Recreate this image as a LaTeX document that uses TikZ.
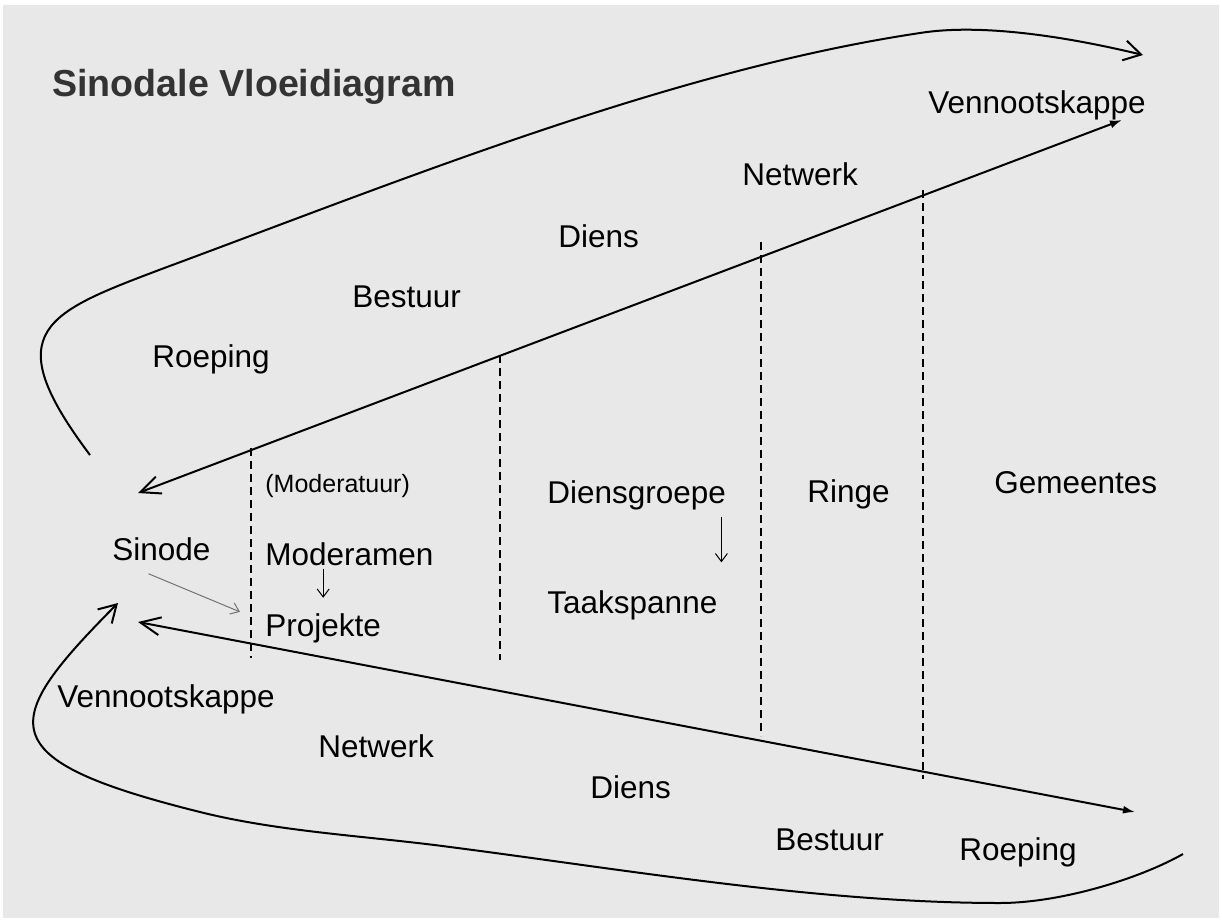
\documentclass[tikz,border=0pt]{standalone}
\usepackage{fontspec}
\setmainfont{Liberation Sans}
\usetikzlibrary{arrows.meta}
\tikzset{
  txt/.style={anchor=base west,inner sep=0pt,font=\fontsize{15.75}{19}\selectfont},
  flow/.style={line width=1pt},
  sep/.style={line width=0.9pt,dash pattern=on 4pt off 2.5pt},
  thinarrow/.style={line width=0.5pt,-{Straight Barb[length=4pt,width=6pt]}},
  bigbarb/.tip={Straight Barb[length=10pt,width=9pt]},
  curvebarb/.tip={Straight Barb[length=8.5pt,width=10pt]},
  smallhead/.tip={Latex[length=6pt,width=4pt]},
}

\begin{document}
\begin{tikzpicture}[x=0.5pt,y=-0.5pt]
\useasboundingbox (0,0) rectangle (1222,922);
\fill[black!9] (3,5) rectangle (1219,918);

\node[txt,font=\bfseries\fontsize{18.8}{22}\selectfont,text=black!80] (title) at (52,96) {Sinodale Vloeidiagram};

% top half
\node[txt] (venntop) at (928,113) {Vennootskappe};
\node[txt] (netwtop) at (742,185) {Netwerk};
\node[txt] (dienstop) at (558,247) {Diens};
\node[txt] (besttop) at (352,307) {Bestuur};
\node[txt] (roeptop) at (152,367) {Roeping};

% middle
\node[txt] (sinode) at (112,560) {Sinode};
\node[txt,font=\fontsize{12.5}{15}\selectfont] (moderatuur) at (265,492) {(Moderatuur)};
\node[txt] (moderamen) at (265,565) {Moderamen};
\node[txt] (projekte) at (265,636) {Projekte};
\node[txt] (diensgroepe) at (547,503) {Diensgroepe};
\node[txt] (taakspanne) at (547,613) {Taakspanne};
\node[txt] (ringe) at (807,502) {Ringe};
\node[txt] (gemeentes) at (994,493) {Gemeentes};

% bottom half
\node[txt] (vennbot) at (57,707) {Vennootskappe};
\node[txt] (netwbot) at (318,757) {Netwerk};
\node[txt] (diensbot) at (590,798) {Diens};
\node[txt] (bestbot) at (775,850) {Bestuur};
\node[txt] (roepbot) at (959,860) {Roeping};

\draw [sep] (251,448)--(251,658);
\draw [sep] (500,355)--(500,660);
\draw [sep] (761,242)--(761,736);
\draw [sep] (923,190)--(923,779);

\coordinate (upin) at (138,493);
\coordinate (upout) at (1122,120);
\coordinate (lowin) at (138,622);
\coordinate (lowout) at (1135,812);
\draw [flow,bigbarb-smallhead] (upin)--(upout);
\draw [flow,bigbarb-smallhead] (lowin)--(lowout);

% groot boog bo en onder
\coordinate (topstart) at (90,455);
\coordinate (toptip) at (1143,55);
\coordinate (botstart) at (1183,854);
\coordinate (bottip) at (118,603);
\draw [flow,-curvebarb] (topstart) .. controls (-4,330) and (45,313) .. (167,267)
  .. controls (402,180) and (672,70) .. (920,33)
  .. controls (989,22) and (1085,41) .. (toptip);
\draw [flow,-curvebarb] (botstart) .. controls (1139,879) and (1060,903) .. (1000,903)
  .. controls (820,903) and (628,870) .. (450,847)
  .. controls (368,836) and (280,832) .. (200,812)
  .. controls (-13,759) and (0,722) .. (bottip);

\draw [thinarrow,black!55] ([shift={(-6.5pt,-6.5pt)}]sinode.south)--([shift={(-12.5pt,8pt)}]projekte.west);
\draw [thinarrow] ([yshift=-1.5pt]moderamen.south -| projekte.north)--([yshift=7.5pt]projekte.north);
\draw [thinarrow] ([shift={(-2.5pt,-3.7pt)}]diensgroepe.south east)--++(0pt,-22.5pt);
\end{tikzpicture}
\end{document}
